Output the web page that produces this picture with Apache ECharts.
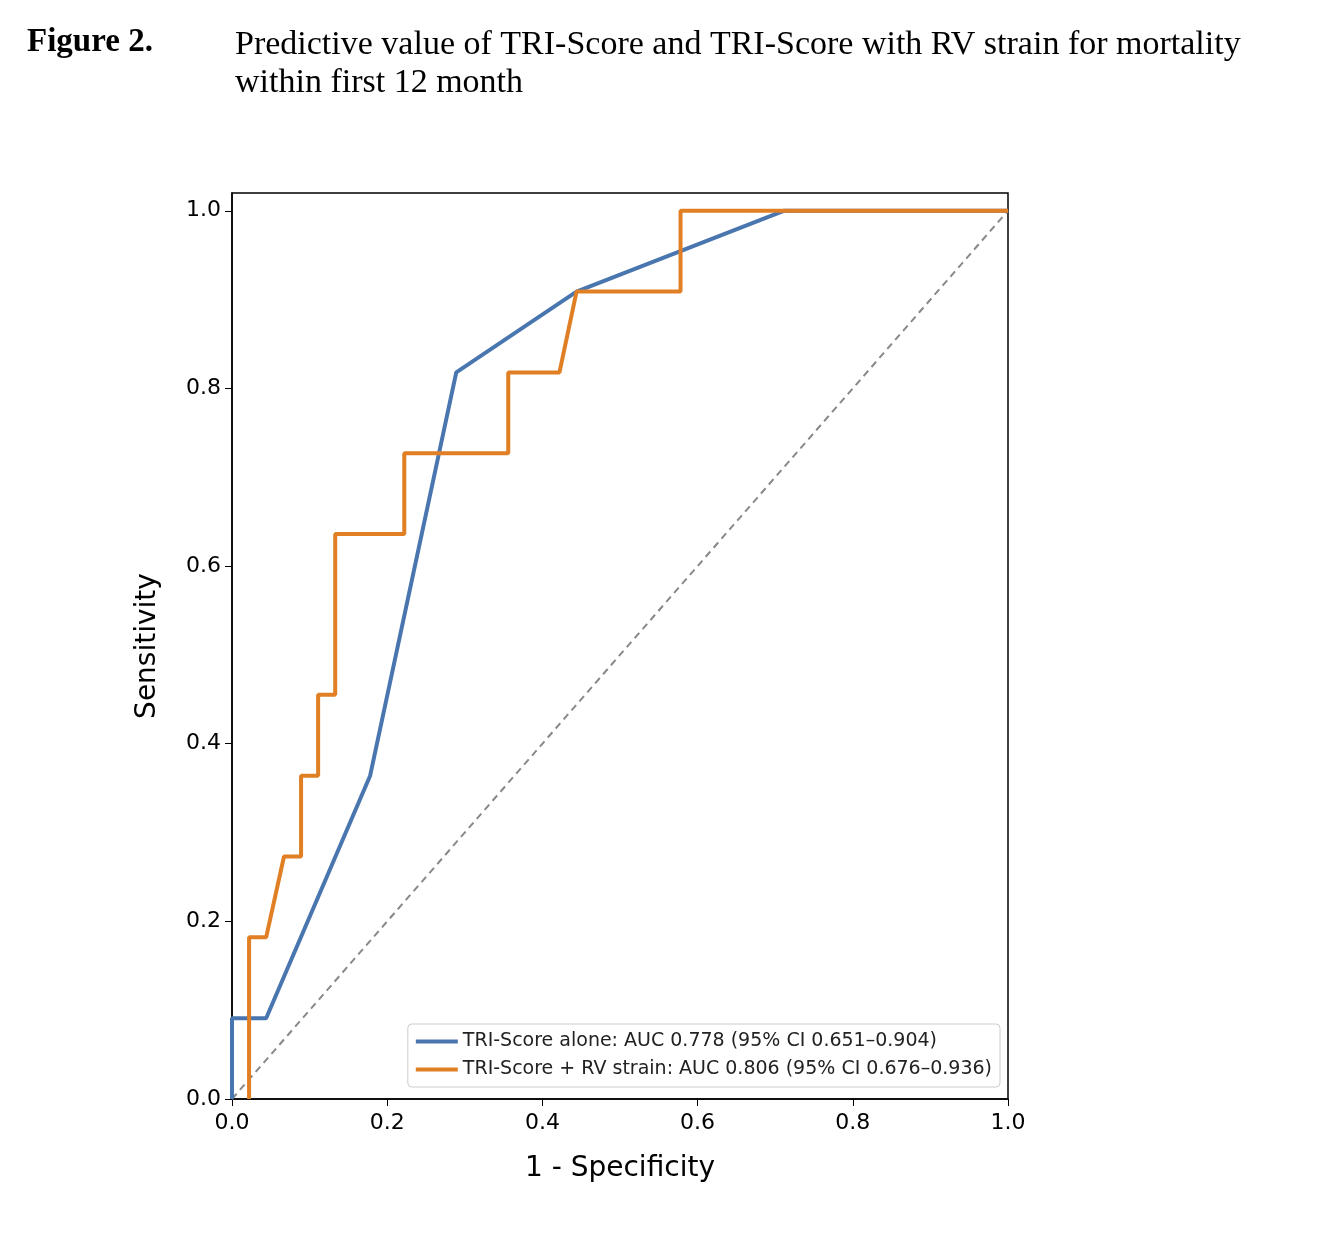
<!DOCTYPE html>
<html>
<head>
<meta charset="utf-8">
<script src="https://cdn.jsdelivr.net/npm/echarts@6/dist/echarts.min.js"></script>
<style>html,body{margin:0;padding:0;background:#fff}</style>
</head>
<body>
<div id="view1" style="width:1318px;height:1241px"></div>
<script>
"use strict";
// ROC points
var triAlone = [[0,0],[0,0.091],[0.044,0.091],[0.178,0.364],[0.289,0.818],[0.444,0.909],[0.711,1],[1,1]];
var triRv = [[0.022,0],[0.022,0.182],[0.044,0.182],[0.067,0.273],[0.089,0.273],[0.089,0.364],[0.111,0.364],
	[0.111,0.455],[0.133,0.455],[0.133,0.636],[0.222,0.636],[0.222,0.727],[0.356,0.727],[0.356,0.818],
	[0.422,0.818],[0.444,0.909],[0.578,0.909],[0.578,1],[1,1]];
var ticks = [0, 0.2, 0.4, 0.6, 0.8, 1.0];

var font = 'DejaVu Sans';
var option = {
	animation: false,
	graphic: [
		{ type:'text', left:27, top:26, style:{ text:'Figure 2.', font:'bold 33px "Liberation Serif"', fill:'#000' } },
		{ type:'text', left:235, top:26, style:{ text:'Predictive value of TRI-Score and TRI-Score with RV strain for mortality\nwithin first 12 month', font:'34px "Liberation Serif"', lineHeight:38, fill:'#000' } }
	],
	grid: { left:232, right:310, top:193, bottom:142, show:true, borderColor:'#000', borderWidth:1.5 },
	legend: {
		orient:'vertical', right:318, bottom:154, itemWidth:42, itemHeight:4, itemGap:9,
		borderColor:'#ccc', borderWidth:1, borderRadius:4, padding:[8,8,8,8], backgroundColor:'#fff',
		textStyle:{ fontFamily:font, fontSize:19, color:'#222' },
		data:[{name:'TRI-Score alone: AUC 0.778 (95% CI 0.651\u20130.904)', icon:'rect'},
			{name:'TRI-Score + RV strain: AUC 0.806 (95% CI 0.676\u20130.936)', icon:'rect'}]
	},
	xAxis: { type:'value', min:0, max:1, interval:0.2, name:'1 - Specificity', nameLocation:'middle', nameGap:56,
		nameTextStyle:{ fontFamily:font, fontSize:28, color:'#000' },
		axisLine:{ lineStyle:{ color:'#000', width:1.5 } }, axisTick:{ length:7, lineStyle:{ color:'#000' } },
		axisLabel:{ fontFamily:font, fontSize:22, color:'#000', margin:13, formatter:function(v){ return v.toFixed(1); } },
		splitLine:{ show:false } },
	yAxis: { type:'value', min:0, max:1.02, interval:0.2, name:'Sensitivity', nameLocation:'middle', nameGap:70,
		nameTextStyle:{ fontFamily:font, fontSize:28, color:'#000' },
		axisLine:{ lineStyle:{ color:'#000', width:1.5 } }, axisTick:{ length:7, customValues:ticks, lineStyle:{ color:'#000' } },
		axisLabel:{ fontFamily:font, fontSize:22, color:'#000', margin:11, customValues:ticks, formatter:function(v){ return v.toFixed(1); } },
		splitLine:{ show:false } },
	series: [
		{ name:'diag', type:'line', data:[[0,0],[1,1]], symbol:'none', lineStyle:{ color:'#888', width:2, type:[7,5] }, z:1 },
		{ name:'TRI-Score alone: AUC 0.778 (95% CI 0.651\u20130.904)', type:'line', data:triAlone, symbol:'none',
			color:'#4a76b0', lineStyle:{ width:4 }, z:2 },
		{ name:'TRI-Score + RV strain: AUC 0.806 (95% CI 0.676\u20130.936)', type:'line', data:triRv, symbol:'none',
			color:'#e07f24', lineStyle:{ width:4 }, z:3 }
	]
};
echarts.init(document.getElementById('view1')).setOption(option);
</script>
</body>
</html>
